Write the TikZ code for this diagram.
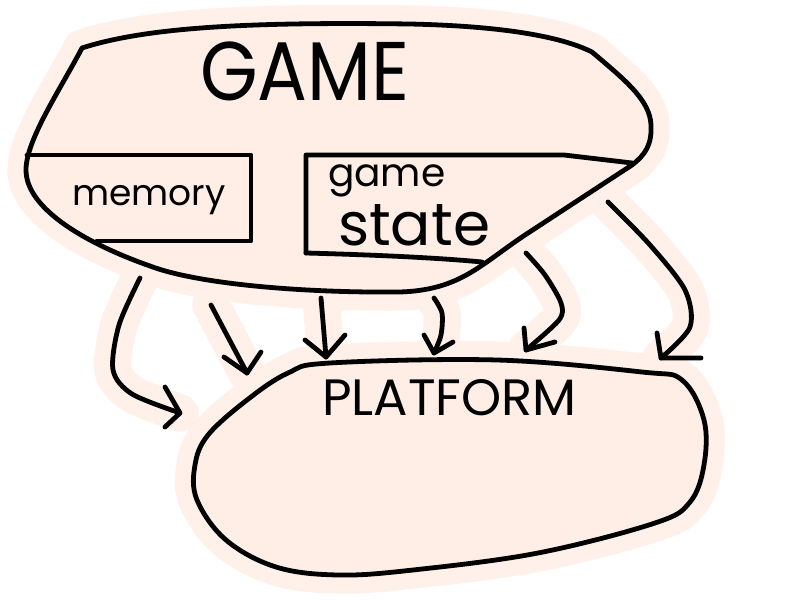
\documentclass[tikz,border=0pt]{standalone}
\usepackage{fontspec}
\setmainfont{Poppins}
\usepackage{graphicx}
\definecolor{blobfill}{RGB}{254,238,230}
\definecolor{halo}{RGB}{255,241,234}
\tikzset{
  ink/.style={line width=3.6pt, line cap=round, line join=round},
  glow/.style={draw=halo, line width=28pt, line cap=round, line join=round},
  lbl/.style={inner sep=0pt, outer sep=0pt, anchor=base west}
}
\begin{document}
\begin{tikzpicture}[x=0.75pt, y=-0.75pt]
\useasboundingbox (0,0) rectangle (800,600);
\fill[white] (0,0) rectangle (800,600);
% shapes as reusable paths
\def\gamepath{(82,48) .. controls (150,26) and (260,22) .. (410,24) .. controls (500,26) and (560,36) .. (592,52) .. controls (625,80) and (650,100) .. (651,125) .. controls (652,145) and (645,155) .. (632,165) -- (525,235) .. controls (480,265) and (460,290) .. (400,292) .. controls (310,293) and (200,285) .. (150,266) .. controls (90,245) and (26,210) .. (26,170) .. controls (26,140) and (60,90) .. (82,48) -- cycle}
\def\platpath{plot[smooth cycle, tension=0.6] coordinates {(330,363) (497,360) (642,372) (682,380) (704,420) (704,465) (690,502) (655,523) (538,553) (413,570) (338,575) (276,567) (226,540) (197,500) (195,465) (208,435) (247,400) (288,373)}}
% arrow end coordinates
\coordinate (a1s) at (140,278); \coordinate (a1e) at (180,413);
\coordinate (a2s) at (211,305); \coordinate (a2e) at (247,373);
\coordinate (a3s) at (321,298); \coordinate (a3e) at (326,357);
\coordinate (a4s) at (434,298); \coordinate (a4e) at (434,353);
\coordinate (a5s) at (526,253); \coordinate (a5e) at (526,350);
\coordinate (a6s) at (608,202); \coordinate (a6e) at (661,358);
% glow layer
\fill[halo] \gamepath; \draw[glow] \gamepath;
\fill[halo] \platpath; \draw[glow] \platpath;
\draw[glow] plot[smooth] coordinates {(a1s) (119,325) (113,370) (132,394) (a1e)};
\draw[glow] (a2s) -- (a2e);
\draw[glow] (a3s) -- (a3e);
\draw[glow] plot[smooth] coordinates {(a4s) (442,313) (441,335) (a4e)};
\draw[glow] plot[smooth] coordinates {(a5s) (545,275) (561,303) (559,320) (a5e)};
\draw[glow] plot[smooth] coordinates {(a6s) (650,245) (685,290) (690,327) (a6e)};
% GAME blob
\draw[ink, fill=blobfill] \gamepath;
\draw[ink] (27,155) -- (251,155) -- (251,241) -- (97,241);
\draw[ink] (306,253) -- (306,155) -- (564,155) -- (632,163);
\draw[ink] (306,253) .. controls (380,255) and (440,258) .. (482,262);
% PLATFORM blob
\draw[ink, fill=blobfill] \platpath;
% arrows
\draw[ink] plot[smooth] coordinates {(a1s) (119,325) (113,370) (132,394) (a1e)};
\draw[ink] (165,387) -- (a1e) -- (165,427);
\draw[ink] (a2s) -- (a2e);
\draw[ink] (224,357) -- (a2e) -- (261,352);
\draw[ink] (a3s) -- (a3e);
\draw[ink] (305,340) -- (a3e) -- (345,335);
\draw[ink] plot[smooth] coordinates {(a4s) (442,313) (441,335) (a4e)};
\draw[ink] (424,335) -- (a4e) -- (453,342);
\draw[ink] plot[smooth] coordinates {(a5s) (545,275) (561,303) (559,320) (a5e)};
\draw[ink] (524,328) -- (a5e) -- (555,342);
\draw[ink] plot[smooth] coordinates {(a6s) (650,245) (685,290) (690,327) (a6e)};
\draw[ink] (657,333) -- (a6e) -- (701,358);
% texts
\node[lbl] (game) at (200,100) {\resizebox{157pt}{44pt}{GAME}};
\node[lbl] (memory) at (72,205) {\resizebox{115pt}{!}{memory}};
\node[lbl] (gametxt) at (328,186) {\resizebox{88pt}{!}{game}};
\node[lbl] (state) at (338,245) {\resizebox{114pt}{!}{state}};
\node[lbl] (platform) at (322,415) {\resizebox{191pt}{!}{PLATFORM}};
\end{tikzpicture}
\end{document}
